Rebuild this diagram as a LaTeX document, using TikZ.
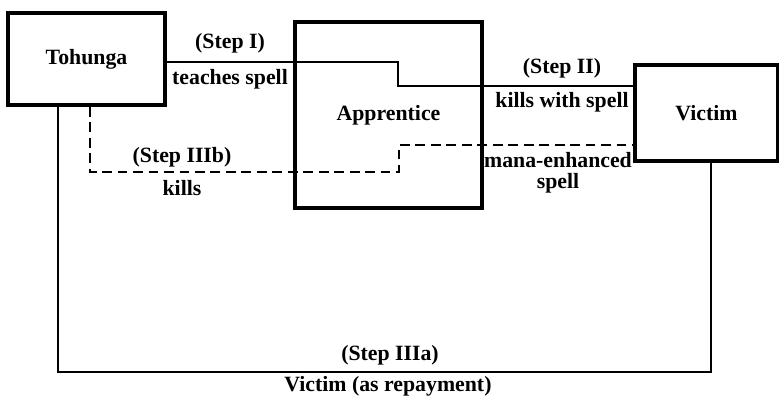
\documentclass[tikz,border=0pt]{standalone}
\usepackage{fontspec}
\setmainfont{Liberation Serif}
\usetikzlibrary{calc}

\begin{document}
\begin{tikzpicture}[x=0.025cm,y=-0.025cm]
    \tikzstyle{every node}=[font=\bfseries\fontsize{15.5}{15}\selectfont]
    \tikzstyle{party}=[rectangle,draw,line width=2.6pt,inner sep=0pt]
    \tikzstyle{path}=[line width=1.2pt]
    \tikzstyle{spell}=[path,dashed,dash pattern=on 7pt off 4pt]
    \tikzstyle{lbl}=[inner sep=1pt,align=center]
    \useasboundingbox (0,0) rectangle (779,396);
    % the three parties
    \node[party,minimum width=3.925cm,minimum height=2.3cm] (tohunga) at (86.5,59) {Tohunga};
    \node[party,minimum width=4.675cm,minimum height=4.65cm] (apprentice) at (388.5,115) {Apprentice};
    \node[party,minimum width=3.575cm,minimum height=2.4cm] (victim) at (706.5,113) {Victim};
    % bends of the connectors
    \coordinate (s1a) at (398,62);
    \coordinate (s1b) at (398,86);
    \coordinate (d1) at (90,172);
    \coordinate (d2) at (399,172);
    \coordinate (d3) at (399,145);
    \coordinate (r1) at (58,372);
    \coordinate (r2) at (711,372);
    \draw[path] (tohunga.east |- s1a) -- (s1a) -- (s1b) -- (victim.west |- s1b);
    \draw[spell] (tohunga.south -| d1) -- (d1) -- (d2) -- (d3) -- (victim.west |- d3);
    \draw[path] (tohunga.south -| r1) -- (r1) -- (r2) -- (victim.south -| r2);
    % labels
    \node[lbl] (stepI) at (230,43) {(Step I)};
    \node[lbl] (teaches) at (230,79) {teaches spell};
    \node[lbl] (stepII) at (562,68) {(Step II)};
    \node[lbl] (killswith) at (562,102) {kills with spell};
    \node[lbl] (stepIIIb) at (182,157) {(Step IIIb)};
    \node[lbl] (kills) at (182,188) {kills};
    \node[lbl] (mana) at (558,172.5) {mana-enhanced\\spell};
    \node[lbl] (stepIIIa) at (390,355) {(Step IIIa)};
    \node[lbl] (repay) at (388,386) {Victim (as repayment)};
\end{tikzpicture}
\end{document}
